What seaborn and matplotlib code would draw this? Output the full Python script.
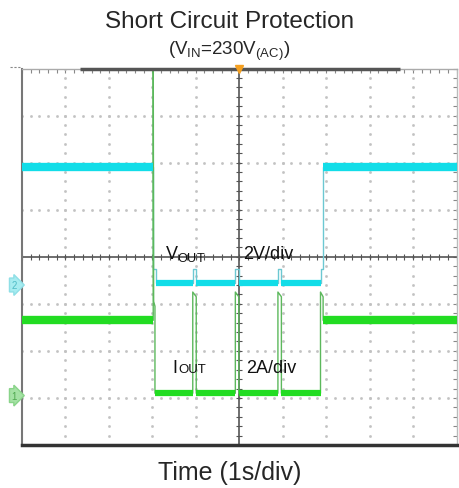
import numpy as np
import matplotlib
matplotlib.use("Agg")
import matplotlib.pyplot as plt
import seaborn as sns
import pandas as pd

sns.set_style("white")
plt.rcParams["font.family"] = ["Liberation Sans", "DejaVu Sans"]
plt.rcParams["mathtext.fontset"] = "custom"
plt.rcParams["mathtext.rm"] = "Liberation Sans"

# scope traces, time in s (1 s/div)
# channel 2: output voltage (2 V/div)
vout_t = [0.00, 3.02, 3.02, 3.08, 3.08, 3.93, 3.93, 4.01, 4.01, 4.91, 4.91, 4.99, 4.99,
          5.89, 5.89, 5.97, 5.97, 6.87, 6.87, 6.93, 6.93, 10.0]
vout_v = [5.0, 5.0, 0.7, 0.7, 0.1, 0.1, 0.7, 0.7, 0.1, 0.1, 0.7, 0.7, 0.1,
          0.1, 0.7, 0.7, 0.1, 0.1, 0.7, 0.7, 5.0, 5.0]
# channel 1: output current (2 A/div)
iout_t = [0.00, 3.02, 3.02, 3.03, 3.06, 3.06, 3.93, 3.93, 4.01, 4.01, 4.91, 4.91, 4.99, 4.99,
          5.89, 5.89, 5.97, 5.97, 6.87, 6.87, 6.93, 6.93, 10.0]
iout_a = [3.2, 3.2, 15.0, 4.0, 3.8, 0.1, 0.1, 4.4, 4.2, 0.1, 0.1, 4.4, 4.2, 0.1,
          0.1, 4.4, 4.2, 0.1, 0.1, 4.4, 4.2, 3.2, 3.2]

v_per_div = 2.0
a_per_div = 2.0
ch2_ground = -0.6   # divisions from centre
ch1_ground = -2.95

cyan, cyan_thin = "#12dde8", "#6cc8d2"
green, green_thin = "#22dc22", "#5cb85c"

fig = plt.figure(figsize=(4.59, 4.89), dpi=100)
ax = fig.add_axes([22 / 459, 43 / 489, 434.5 / 459, 376.5 / 489])
ax.set_xlim(0, 10)
ax.set_ylim(-4, 4)

# dotted graticule
dots = np.arange(0, 10.01, 0.2)
for gy in [-3, -2, -1, 1, 2, 3]:
    ax.plot(dots, np.full(dots.size, gy), ls="none", marker="s", ms=0.9, color="#c2c2c2", zorder=1)
dots_v = np.arange(-4, 4.01, 0.2)
for gx in [1, 2, 3, 4, 6, 7, 8, 9]:
    ax.plot(np.full(dots_v.size, gx), dots_v, ls="none", marker="s", ms=0.9, color="#c2c2c2", zorder=1)

# centre lines with ticks
ax.axhline(0, color="#555555", lw=1.2, zorder=2)
ax.axvline(5, color="#555555", lw=1.2, zorder=2)
ax.plot(dots, np.zeros(dots.size), ls="none", marker="|", ms=5, mew=0.8, color="#555555", zorder=2)
ax.plot(np.full(dots_v.size, 5), dots_v, ls="none", marker="_", ms=5, mew=0.8, color="#555555", zorder=2)


def draw_trace(t, y, thick, thin, lw_hi, lw_lo):
    df = pd.DataFrame({"t": t, "y": y})
    sns.lineplot(data=df, x="t", y="y", estimator=None, sort=False, color=thin, lw=1.0, ax=ax, zorder=3)
    top = max(y[0], y[-1])
    for i in range(len(t) - 1):
        if y[i] == y[i + 1] and t[i + 1] - t[i] > 0.3:
            ax.plot([t[i], t[i + 1]], [y[i], y[i]], color=thick,
                    lw=lw_hi if y[i] == top else lw_lo, solid_capstyle="butt", zorder=4)


vout_div = list(np.array(vout_v) / v_per_div + ch2_ground)
iout_div = list(np.array(iout_a) / a_per_div + ch1_ground)
draw_trace(vout_t, vout_div, cyan, cyan_thin, 6.0, 4.5)
draw_trace(iout_t, iout_div, green, green_thin, 6.0, 4.5)

ax.set_xlabel("")
ax.set_ylabel("")
ax.set_xticks([])
ax.set_yticks([])
ax.set_xticks(np.arange(0, 10.01, 0.2), minor=True)
ax.set_yticks(np.arange(-4, 4.01, 0.2), minor=True)
ax.tick_params(which="minor", direction="in", length=3, width=0.8, color="#888888",
               top=True, right=True, labelbottom=False, labelleft=False)

for s in ax.spines.values():
    s.set_visible(True)
ax.spines["left"].set_color("#777777")
ax.spines["left"].set_linewidth(1.5)
ax.spines["bottom"].set_color("#333333")
ax.spines["bottom"].set_linewidth(2.5)
ax.spines["right"].set_color("#bbbbbb")
ax.spines["right"].set_linewidth(1.0)
ax.spines["top"].set_color("#aaaaaa")
ax.spines["top"].set_linewidth(1.0)
ax.plot([1.33, 8.7], [4, 4], color="#555555", lw=2.5, solid_capstyle="butt", clip_on=False, zorder=5)
ax.plot([5], [4], marker="v", ms=6, color="#f5a020", clip_on=False, zorder=6)
ax.plot([-0.28, -0.04], [4.03, 4.03], color="#888888", lw=0.8, ls=(0, (2, 1.5)), clip_on=False)

# channel markers
ax.text(-0.12, ch2_ground, "2", ha="right", va="center", fontsize=7, color="#4fbcc6",
        bbox=dict(boxstyle="rarrow,pad=0.2", fc="#a6ecf0", ec="#8fdfe6"), clip_on=False)
ax.text(-0.12, ch1_ground, "1", ha="right", va="center", fontsize=7, color="#4fa84f",
        bbox=dict(boxstyle="rarrow,pad=0.2", fc="#a4e2a4", ec="#8ad48a"), clip_on=False)

# annotations
ax.text(3.28, -0.03, r"V$_{\mathrm{OUT}}$", fontsize=13, color="#111111", va="baseline", zorder=7)
ax.text(5.1, -0.03, "2V/div", fontsize=13, color="#111111", va="baseline", zorder=7)
ax.text(3.45, -2.45, "I", fontsize=13, color="#111111", va="baseline", zorder=7)
ax.annotate("OUT", xy=(3.45, -2.45), xytext=(4.5, 0), textcoords="offset points",
            fontsize=9.5, color="#111111", va="baseline", zorder=7)
ax.text(5.15, -2.45, "2A/div", fontsize=13, color="#111111", va="baseline", zorder=7)

fig.text(0.5, 1 - 22 / 489, "Short Circuit Protection", ha="center", va="center", fontsize=17.5)
fig.text(0.5, 1 - 51 / 489, r"(V$_{\mathrm{IN}}$=230V$_{\mathrm{(AC)}}$)", ha="center", va="center", fontsize=13.5)
fig.text(0.5, 1 - 473 / 489, "Time (1s/div)", ha="center", va="center", fontsize=18)

fig.savefig("out.png", dpi=100)
